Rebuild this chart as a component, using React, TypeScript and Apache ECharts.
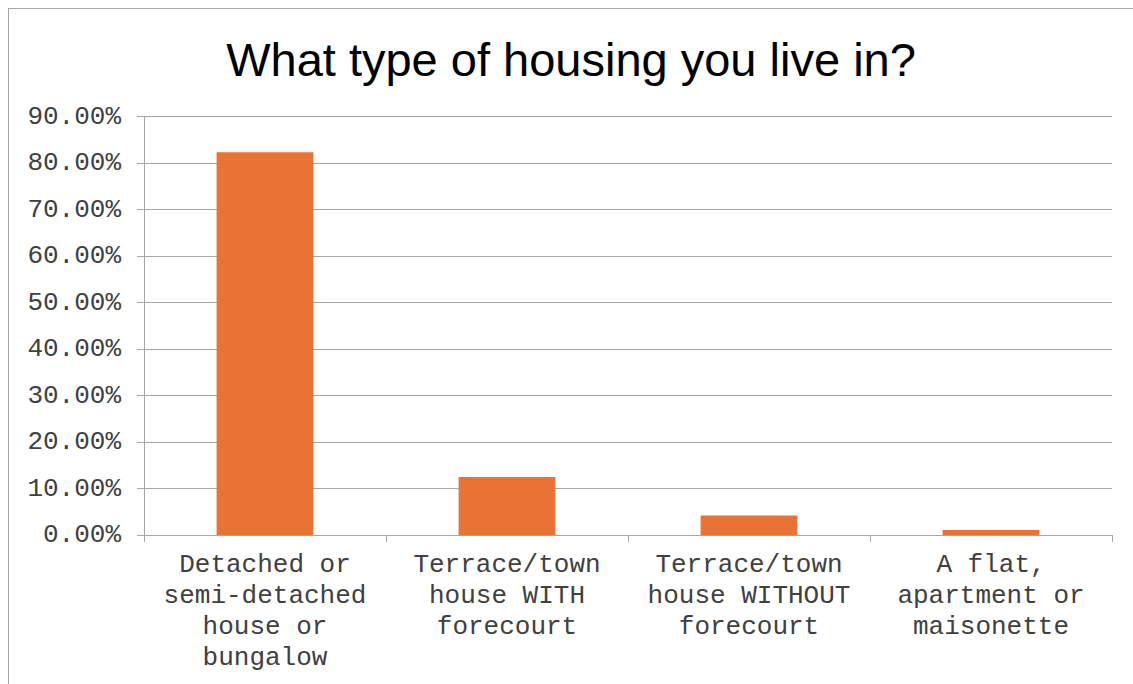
import React, { useEffect, useRef } from "react";
import * as echarts from "echarts";

const titleText = "What type of housing you live in?";
const categories = [
  "Detached or\nsemi-detached\nhouse or\nbungalow",
  "Terrace/town\nhouse WITH\nforecourt",
  "Terrace/town\nhouse WITHOUT\nforecourt",
  "A flat,\napartment or\nmaisonette",
];
const values = [82.3, 12.5, 4.2, 1.1];
const yMin = 0;
const yMax = 90;
const yInterval = 10;

export default function App() {
  const ref = useRef<HTMLDivElement>(null);
  useEffect(() => {
    if (!ref.current) return;
    const chart = echarts.init(ref.current, undefined, { renderer: "svg" });
    const mono = "'Liberation Mono', 'Courier New', monospace";
    chart.setOption({
      animation: false,
      backgroundColor: "#ffffff",
      title: {
        text: titleText,
        left: "center",
        top: 22,
        textStyle: {
          fontFamily: "'Liberation Sans', Arial, sans-serif",
          fontSize: 47,
          fontWeight: "normal",
          color: "#000000",
        },
      },
      grid: { left: 135, right: 21, top: 107.5, bottom: 149, containLabel: false },
      xAxis: {
        type: "category",
        data: categories,
        axisLine: { lineStyle: { color: "#a6a6a6", width: 1 } },
        axisTick: { show: true, length: 7, alignWithLabel: false, lineStyle: { color: "#a6a6a6" } },
        axisLabel: {
          interval: 0,
          margin: 14,
          fontFamily: mono,
          fontSize: 26,
          lineHeight: 31,
          color: "#404040",
        },
      },
      yAxis: {
        type: "value",
        min: yMin,
        max: yMax,
        interval: yInterval,
        axisLine: { show: true, lineStyle: { color: "#a6a6a6", width: 1 } },
        axisTick: { show: true, length: 7, lineStyle: { color: "#a6a6a6" } },
        splitLine: { show: true, lineStyle: { color: "#a6a6a6", width: 1 } },
        axisLabel: {
          margin: 23,
          fontFamily: mono,
          fontSize: 26,
          color: "#404040",
          formatter: (v: number) => v.toFixed(2) + "%",
        },
      },
      series: [
        {
          type: "bar",
          data: values,
          barWidth: "40%",
          itemStyle: { color: "#E97334" },
        },
      ],
    });
    return () => chart.dispose();
  }, []);
  return (
    <div
      style={{
        position: "fixed",
        left: 8,
        top: 8,
        width: 1124,
        height: 675,
        borderLeft: "1px solid #a6a6a6",
        borderTop: "1px solid #a6a6a6",
        overflow: "hidden",
        background: "#fff",
      }}
    >
      <div ref={ref} style={{ width: 1124, height: 675 }} />
    </div>
  );
}
